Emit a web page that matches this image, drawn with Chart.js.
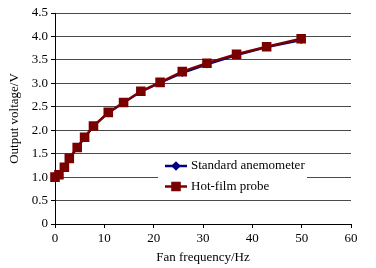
<!DOCTYPE html>
<html>
<head>
<meta charset="utf-8">
<script src="https://cdn.jsdelivr.net/npm/chart.js@4/dist/chart.umd.min.js"></script>
<style>
  body { margin: 0; background: #fff; }
  canvas { display: block; }
</style>
</head>
<body>
<canvas id="fanChart" width="376" height="268"></canvas>
<script>
// data
var freq = [0, 0.8, 1.9, 2.9, 4.5, 6, 7.8, 10.8, 13.9, 17.4, 21.3, 25.8, 30.8, 36.8, 42.9, 49.9];
var standardVolt = [1.0, 1.04, 1.20, 1.38, 1.62, 1.84, 2.08, 2.37, 2.58, 2.82, 3.01, 3.22, 3.40, 3.60, 3.77, 3.92];
var hotFilmVolt = [1.0, 1.05, 1.21, 1.40, 1.63, 1.85, 2.09, 2.38, 2.59, 2.83, 3.02, 3.25, 3.43, 3.62, 3.78, 3.95];
var seriesNames = ['Standard anemometer', 'Hot-film probe'];
var yTicks = ['0', '0.5', '1.0', '1.5', '2.0', '2.5', '3.0', '3.5', '4.0', '4.5'];

var serif = 'Liberation Serif, Times New Roman, serif';

function pts(ys) {
    return freq.map(function (f, i) { return { x: f, y: ys[i] }; });
}

// legend drawn in a white box inside the plot
var boxLegend = {
    id: 'boxLegend',
    afterDraw: function (chart) {
        var c = chart.ctx;
        c.save();
        c.fillStyle = '#fff';
        c.fillRect(158, 157, 149, 40);
        var rows = [
            { y: 166, color: '#000080', style: 'rectRot', r: 3 },
            { y: 186.5, color: '#7a0000', style: 'rect', r: 5 }
        ];
        rows.forEach(function (row, i) {
            c.strokeStyle = row.color;
            c.lineWidth = 2.5;
            c.beginPath();
            c.moveTo(165, row.y);
            c.lineTo(187, row.y);
            c.stroke();
            c.fillStyle = row.color;
            Chart.helpers.drawPoint(c, { pointStyle: row.style, radius: row.r, borderWidth: 1 }, 176, row.y);
            c.fillStyle = '#000';
            c.font = '13px ' + serif;
            c.textBaseline = 'middle';
            c.fillText(seriesNames[i], 191, row.y);
        });
        c.restore();
    }
};

var ctx = document.getElementById('fanChart').getContext('2d');

var chart = new Chart(ctx, {
    type: 'line',
    data: {
        datasets: [
            {
                label: seriesNames[0],
                data: pts(standardVolt),
                borderColor: '#000080',
                backgroundColor: '#000080',
                borderWidth: 2,
                pointStyle: 'rectRot',
                pointRadius: 2.5,
                tension: 0,
                clip: false,
                order: 1
            },
            {
                label: seriesNames[1],
                data: pts(hotFilmVolt),
                borderColor: '#7a0000',
                backgroundColor: '#7a0000',
                borderWidth: 2.5,
                pointStyle: 'rect',
                pointRadius: 5,
                tension: 0,
                clip: false,
                order: 0
            }
        ]
    },
    options: {
        responsive: false,
        animation: false,
        layout: { padding: { top: 13, right: 25, left: 0, bottom: 0 } },
        plugins: {
            legend: { display: false },
            tooltip: { enabled: false }
        },
        scales: {
            x: {
                type: 'linear',
                min: 0,
                max: 60,
                ticks: { stepSize: 10, color: '#000', font: { family: serif, size: 13 }, padding: 3, maxRotation: 0 },
                grid: { drawOnChartArea: false, tickColor: '#000', tickLength: 4 },
                border: { color: '#000', width: 1 },
                title: { display: true, text: 'Fan frequency/Hz', color: '#000', font: { family: serif, size: 13 }, padding: { top: 0, bottom: 3 } },
                afterFit: function (s) { s.height = 44; }
            },
            y: {
                min: 0,
                max: 4.5,
                ticks: {
                    stepSize: 0.5,
                    color: '#000',
                    font: { family: serif, size: 13 },
                    padding: 3,
                    callback: function (v) { return yTicks[Math.round(v * 2)]; }
                },
                grid: { color: '#4a4a4a', lineWidth: 1, tickColor: '#000', tickLength: 4 },
                border: { color: '#000', width: 1 },
                title: { display: true, text: 'Output voltage/V', color: '#000', font: { family: serif, size: 13 }, padding: { top: 7, bottom: 0 } },
                afterFit: function (s) { s.width = 55; }
            }
        }
    },
    plugins: [boxLegend]
});
</script>
</body>
</html>
